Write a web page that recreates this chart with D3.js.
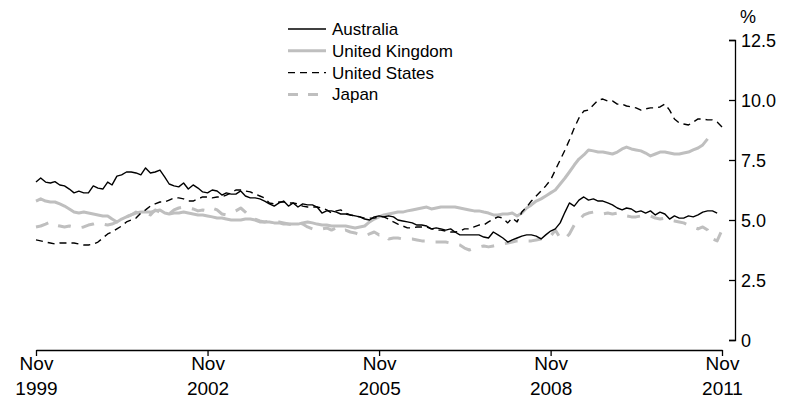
<!DOCTYPE html>
<html><head><meta charset="utf-8">
<script src="https://cdn.jsdelivr.net/npm/d3@7"></script>
<style>body{margin:0;background:#fff}svg{display:block}</style>
</head><body>
<svg id="c" width="796" height="405"></svg>
<script>
// Monthly unemployment rates (%), starting Nov 1999
const startYear = 1999, startMonth = 10;
const australia = [6.58,6.75,6.58,6.54,6.6,6.46,6.42,6.29,6.13,6.2,6.13,6.13,6.42,6.33,6.29,6.58,6.46,6.83,6.88,7.0,7.0,6.96,6.88,7.17,6.96,7.0,7.08,6.79,6.5,6.42,6.38,6.54,6.29,6.46,6.33,6.17,6.13,6.25,6.21,6.04,6.13,6.08,6.08,6.21,6.0,5.92,5.92,5.88,5.79,5.67,5.58,5.71,5.79,5.58,5.71,5.54,5.67,5.63,5.63,5.54,5.29,5.38,5.38,5.33,5.25,5.25,5.21,5.17,5.13,5.04,5.0,5.13,5.17,5.13,5.17,5.13,5.0,4.96,4.92,4.88,4.79,4.79,4.75,4.63,4.67,4.63,4.58,4.63,4.5,4.38,4.38,4.38,4.38,4.38,4.29,4.25,4.5,4.38,4.25,4.08,4.17,4.25,4.33,4.38,4.38,4.33,4.21,4.38,4.54,4.63,4.88,5.33,5.71,5.58,5.83,5.96,5.83,5.88,5.79,5.79,5.71,5.63,5.5,5.42,5.5,5.46,5.33,5.38,5.29,5.38,5.21,5.33,5.25,5.04,5.17,5.08,5.08,5.17,5.13,5.21,5.33,5.38,5.38,5.29];
const unitedKingdom = [5.79,5.88,5.79,5.75,5.75,5.67,5.58,5.46,5.33,5.29,5.33,5.29,5.25,5.21,5.17,5.17,5.04,4.92,5.04,5.13,5.21,5.29,5.33,5.33,5.33,5.38,5.42,5.29,5.25,5.29,5.29,5.33,5.29,5.25,5.21,5.21,5.17,5.13,5.08,5.08,5.04,5.0,5.0,5.0,5.04,5.04,5.0,4.92,4.92,4.92,4.88,4.88,4.83,4.83,4.83,4.83,4.88,4.92,4.88,4.83,4.79,4.79,4.75,4.75,4.75,4.75,4.71,4.67,4.71,4.75,4.92,5.04,5.13,5.21,5.25,5.29,5.33,5.33,5.38,5.42,5.46,5.5,5.54,5.46,5.5,5.54,5.54,5.54,5.54,5.5,5.46,5.42,5.38,5.38,5.33,5.29,5.21,5.21,5.25,5.25,5.29,5.17,5.29,5.5,5.63,5.79,5.88,6.0,6.13,6.25,6.5,6.75,7.0,7.29,7.54,7.71,7.92,7.88,7.83,7.83,7.79,7.75,7.83,7.96,8.04,7.96,7.92,7.88,7.79,7.67,7.75,7.83,7.83,7.79,7.75,7.75,7.79,7.83,7.92,8.0,8.13,8.38];
const unitedStates = [4.17,4.13,4.08,4.04,4.0,4.04,4.04,4.04,4.04,4.0,3.96,3.96,4.0,4.08,4.25,4.42,4.5,4.63,4.75,4.92,5.0,5.08,5.29,5.42,5.58,5.67,5.75,5.75,5.83,5.92,5.92,5.88,5.79,5.79,5.88,5.96,5.96,5.92,5.96,5.96,6.04,6.13,6.25,6.25,6.21,6.17,6.08,6.0,5.92,5.71,5.67,5.75,5.75,5.71,5.71,5.67,5.58,5.54,5.54,5.54,5.5,5.42,5.29,5.38,5.42,5.29,5.21,5.17,5.13,5.08,5.08,5.08,5.13,5.13,5.04,4.92,4.83,4.75,4.67,4.67,4.71,4.71,4.71,4.63,4.58,4.58,4.54,4.5,4.5,4.54,4.63,4.63,4.71,4.79,4.79,4.92,5.04,5.13,5.08,4.88,5.08,4.92,5.33,5.54,5.79,6.0,6.21,6.42,6.67,7.08,7.5,7.92,8.33,8.83,9.25,9.54,9.58,9.79,10.0,10.04,9.96,9.96,9.83,9.83,9.75,9.71,9.67,9.58,9.63,9.67,9.67,9.71,9.83,9.58,9.21,9.04,9.0,8.96,9.08,9.21,9.21,9.17,9.17,9.08,8.88];
const japan = [4.71,4.75,4.83,4.92,4.79,4.75,4.71,4.75,4.71,4.67,4.71,4.79,4.83,4.88,4.83,4.79,4.83,4.92,5.0,5.13,5.21,5.33,5.25,5.29,5.21,5.42,5.33,5.29,5.25,5.42,5.5,5.54,5.5,5.46,5.38,5.42,5.38,5.5,5.42,5.25,5.21,5.29,5.38,5.5,5.33,5.13,5.04,4.96,4.92,4.96,4.96,4.92,4.88,4.83,4.79,4.92,4.83,4.71,4.63,4.58,4.63,4.67,4.58,4.67,4.54,4.58,4.5,4.46,4.38,4.33,4.42,4.5,4.38,4.42,4.21,4.25,4.25,4.21,4.21,4.21,4.17,4.13,4.13,4.08,4.08,4.08,4.08,4.04,4.0,3.96,3.83,3.75,3.83,3.88,3.92,3.88,3.92,3.96,4.0,4.04,4.08,4.13,4.13,4.13,4.13,4.17,4.21,4.25,4.33,4.58,4.25,4.21,4.42,4.79,5.0,5.21,5.29,5.33,5.29,5.25,5.29,5.25,5.29,5.21,5.17,5.13,5.13,5.17,5.21,5.17,5.08,5.04,5.08,5.0,4.96,4.92,4.88,4.79,4.71,4.63,4.71,4.58,4.21,4.13,4.58];

const seriesNames = ["Australia","United Kingdom","United States","Japan"];
const xTickMonths = [0, 36, 72, 108, 144];
const xTickLabels = [["Nov","1999"],["Nov","2002"],["Nov","2005"],["Nov","2008"],["Nov","2011"]];
const yTicks = [0, 2.5, 5, 7.5, 10, 12.5];
const yTickLabels = ["0","2.5","5.0","7.5","10.0","12.5"];
const yUnit = "%";

const dateOf = i => new Date(startYear, startMonth + i, 1);

const svg = d3.select("#c");
const x = d3.scaleTime().domain([dateOf(0), dateOf(144)]).range([36, 722]);
const y = d3.scaleLinear().domain([0, 12.5]).range([340, 40]);

const axisFont = "'Liberation Sans Narrow', 'Arial Narrow', sans-serif";
const legendFont = "'Liberation Sans', Arial, sans-serif";

// X axis
const xAxis = d3.axisBottom(x)
  .tickValues(xTickMonths.map(dateOf))
  .tickSize(6).tickSizeOuter(0)
  .tickFormat(() => "");
const gx = svg.append("g").attr("transform", "translate(0,350)").call(xAxis);
gx.select(".domain").attr("stroke", "#000").attr("stroke-width", 1.3);
gx.selectAll(".tick line").attr("stroke", "#000").attr("stroke-width", 1.3);
gx.selectAll(".tick text").remove();
gx.selectAll(".tick").each(function(d, k) {
  const t = d3.select(this).append("text")
    .attr("fill", "#000").attr("text-anchor", "middle")
    .style("font-family", axisFont).style("font-size", "19px");
  t.append("tspan").attr("x", 0).attr("y", 20).text(xTickLabels[k][0]);
  t.append("tspan").attr("x", 0).attr("y", 45).text(xTickLabels[k][1]);
});

// Y axis (right side, ticks pointing left)
const yAxis = d3.axisRight(y)
  .tickValues(yTicks)
  .tickSize(-6).tickSizeOuter(-6).tickPadding(6)
  .tickFormat((d, k) => yTickLabels[k]);
const gy = svg.append("g").attr("transform", "translate(735,0)").call(yAxis);
gy.select(".domain").attr("stroke", "#000").attr("stroke-width", 1.3);
gy.selectAll(".tick line").attr("stroke", "#000").attr("stroke-width", 1.3);
gy.selectAll(".tick text").attr("fill", "#000")
  .style("font-family", axisFont).style("font-size", "18px").attr("dy", "0.35em");
svg.append("text").attr("x", 748).attr("y", 23).attr("text-anchor", "middle")
  .style("font-family", axisFont).style("font-size", "18px").text(yUnit);

// Series
const styles = [
  {data: australia, color: "#000", width: 1.4, dash: null},
  {data: unitedKingdom, color: "#bfbfbf", width: 3, dash: null},
  {data: unitedStates, color: "#000", width: 1.4, dash: "7,5"},
  {data: japan, color: "#bfbfbf", width: 3, dash: "13,11"}
];
const line = d3.line().x((d, i) => x(dateOf(i))).y(d => y(d));
const drawOrder = [3, 1, 2, 0];
drawOrder.forEach(k => {
  const s = styles[k];
  svg.append("path").datum(s.data)
    .attr("fill", "none").attr("stroke", s.color)
    .attr("stroke-width", s.width)
    .attr("stroke-dasharray", s.dash)
    .attr("stroke-linejoin", "round")
    .attr("d", line);
});

// Legend
const lg = svg.append("g").attr("transform", "translate(288,29)");
seriesNames.forEach((name, k) => {
  const s = styles[k];
  const row = lg.append("g").attr("transform", `translate(0,${k * 21.8})`);
  row.append("line").attr("x1", 0).attr("x2", 38).attr("y1", 0).attr("y2", 0)
    .attr("stroke", s.color).attr("stroke-width", s.width)
    .attr("stroke-dasharray", k === 2 ? "7,5" : (k === 3 ? "10,10" : null));
  row.append("text").attr("x", 44).attr("y", 0).attr("dy", "0.35em")
    .style("font-family", legendFont).style("font-size", "17px").text(name);
});
</script>
</body></html>
